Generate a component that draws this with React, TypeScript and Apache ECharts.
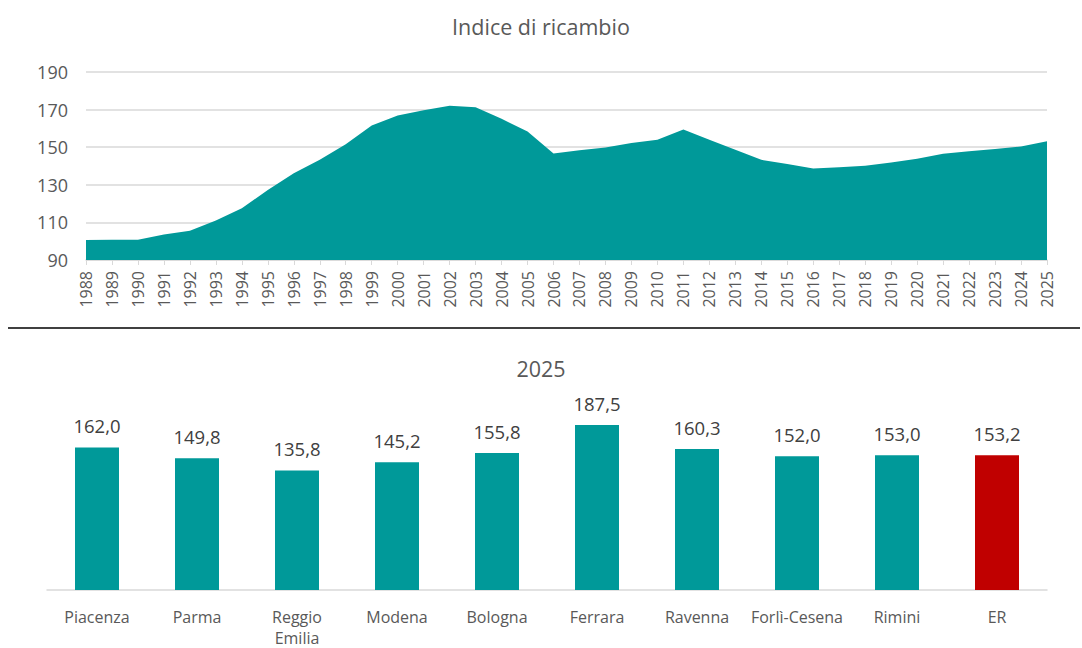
import React, { useEffect, useRef } from "react";
import * as echarts from "echarts";

const years = [
  "1988", "1989", "1990", "1991", "1992", "1993", "1994", "1995", "1996", "1997",
  "1998", "1999", "2000", "2001", "2002", "2003", "2004", "2005", "2006", "2007",
  "2008", "2009", "2010", "2011", "2012", "2013", "2014", "2015", "2016", "2017",
  "2018", "2019", "2020", "2021", "2022", "2023", "2024", "2025",
];
const indexValues = [
  100.7, 100.8, 100.8, 103.5, 105.6, 111.0, 117.5, 127.3, 136.2, 143.3,
  151.6, 161.6, 166.9, 169.6, 172.1, 171.2, 165.1, 158.4, 146.7, 148.4,
  149.9, 152.2, 153.9, 159.4, 153.9, 148.6, 143.3, 141.0, 138.7, 139.4,
  140.1, 141.9, 143.8, 146.5, 147.9, 149.0, 150.4, 153.2,
];
const yTicks = [90, 110, 130, 150, 170, 190];

const provinces = [
  "Piacenza", "Parma", "Reggio\nEmilia", "Modena", "Bologna",
  "Ferrara", "Ravenna", "Forlì-Cesena", "Rimini", "ER",
];
const provinceValues = [162.0, 149.8, 135.8, 145.2, 155.8, 187.5, 160.3, 152.0, 153.0, 153.2];

const TEAL = "#009999";
const RED = "#C00000";
const FONT = "'Open Sans', 'Noto Sans', sans-serif";

export default function App() {
  const ref = useRef<HTMLDivElement>(null);
  useEffect(() => {
    if (!ref.current) return;
    const chart = echarts.init(ref.current, undefined, { renderer: "svg" });
    chart.setOption({
      animation: false,
      backgroundColor: "#ffffff",
      textStyle: { fontFamily: FONT },
      title: [
        {
          text: "Indice di ricambio",
          left: "center",
          top: 10,
          textStyle: { fontFamily: FONT, fontSize: 21.5, fontWeight: "normal", color: "#595959" },
        },
        {
          text: "2025",
          left: "center",
          top: 352,
          textStyle: { fontFamily: FONT, fontSize: 21.5, fontWeight: "normal", color: "#595959" },
        },
      ],
      graphic: [
        {
          type: "line",
          shape: { x1: 8, y1: 328, x2: 1080, y2: 328 },
          style: { stroke: "#000000", lineWidth: 1.5 },
        },
      ],
      grid: [
        { left: 86, right: 35, top: 72, height: 188 },
        { left: 47, right: 35, top: 414, bottom: 54 },
      ],
      xAxis: [
        {
          type: "category",
          gridIndex: 0,
          data: years,
          boundaryGap: false,
          axisLine: { lineStyle: { color: "#d9d9d9", width: 1.5 } },
          axisTick: { show: true, lineStyle: { color: "#d9d9d9" }, length: 5 },
          axisLabel: {
            rotate: 90,
            interval: 0,
            color: "#595959",
            fontSize: 16,
            fontFamily: FONT,
            margin: 11,
          },
        },
        {
          type: "category",
          gridIndex: 1,
          data: provinces,
          axisLine: { lineStyle: { color: "#d9d9d9", width: 1.5 } },
          axisTick: { show: false },
          axisLabel: {
            interval: 0,
            color: "#595959",
            fontSize: 16,
            fontFamily: FONT,
            margin: 16,
            lineHeight: 21,
          },
        },
      ],
      yAxis: [
        {
          type: "value",
          gridIndex: 0,
          min: yTicks[0],
          max: yTicks[yTicks.length - 1],
          interval: 20,
          axisLine: { show: false },
          axisTick: { show: false },
          splitLine: { lineStyle: { color: "#d9d9d9", width: 1.5 } },
          axisLabel: { color: "#595959", fontSize: 18, fontFamily: FONT, margin: 18 },
        },
        {
          type: "value",
          gridIndex: 1,
          min: 0,
          max: 200,
          show: false,
          splitLine: { show: false },
        },
      ],
      series: [
        {
          type: "line",
          xAxisIndex: 0,
          yAxisIndex: 0,
          data: indexValues,
          symbol: "none",
          lineStyle: { width: 0 },
          areaStyle: { color: TEAL, opacity: 1, origin: "start" },
        },
        {
          type: "bar",
          xAxisIndex: 1,
          yAxisIndex: 1,
          barWidth: "44%",
          data: provinceValues.map((v, i) => ({
            value: v,
            itemStyle: { color: i === provinceValues.length - 1 ? RED : TEAL },
          })),
          label: {
            show: true,
            position: "top",
            distance: 12,
            color: "#404040",
            fontSize: 18.5,
            fontFamily: FONT,
            formatter: (p: any) => Number(p.value).toFixed(1).replace(".", ","),
          },
        },
      ],
    });
    return () => chart.dispose();
  }, []);
  return (
    <div
      ref={ref}
      style={{ position: "fixed", left: 0, top: 0, width: 1082, height: 648 }}
    />
  );
}
